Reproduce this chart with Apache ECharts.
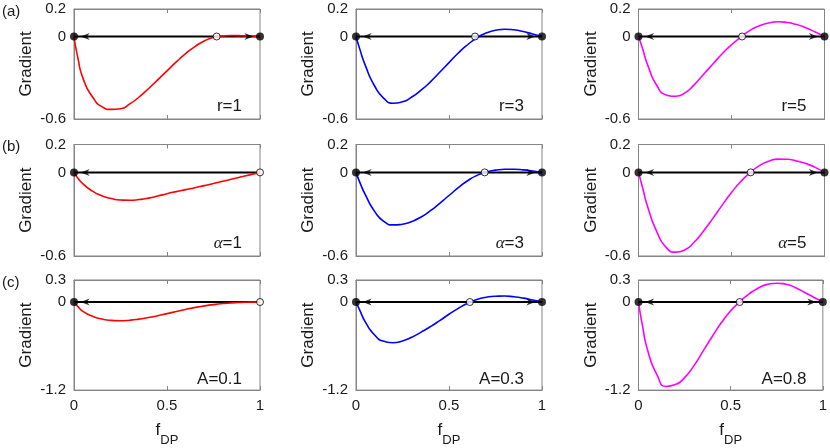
<!DOCTYPE html>
<html>
<head>
<meta charset="utf-8">
<script src="https://cdn.jsdelivr.net/npm/echarts@6/dist/echarts.min.js"></script>
<style>
  html, body { margin: 0; padding: 0; background: #fff; }
  #main { width: 830px; height: 448px; }
</style>
</head>
<body>
<div id="main"></div>
<script>
// f_DP samples shared by all panels
var fdp = [0, 0.02, 0.05, 0.1, 0.15, 0.2, 0.25, 0.3, 0.35, 0.4, 0.45, 0.5,
           0.55, 0.6, 0.65, 0.7, 0.75, 0.8, 0.85, 0.9, 0.95, 1];

// row (a): r = 1, 3, 5
var gradR1 = [0, -0.15, -0.31, -0.44, -0.51, -0.53, -0.525, -0.49, -0.44, -0.38, -0.315, -0.25,
              -0.185, -0.125, -0.073, -0.033, -0.007, 0.004, 0.007, 0.006, 0.003, 0];
var gradR3 = [0, -0.09, -0.21, -0.36, -0.45, -0.485, -0.475, -0.44, -0.39, -0.33, -0.26, -0.19,
              -0.12, -0.06, -0.01, 0.025, 0.045, 0.053, 0.049, 0.036, 0.018, 0];
var gradR5 = [0, -0.08, -0.21, -0.36, -0.425, -0.435, -0.41, -0.35, -0.275, -0.2, -0.125, -0.06,
              -0.005, 0.045, 0.078, 0.098, 0.107, 0.102, 0.087, 0.063, 0.033, 0];
// row (b): alpha = 1, 3, 5
var gradAlpha1 = [0, -0.04, -0.085, -0.135, -0.168, -0.188, -0.198, -0.2, -0.195, -0.185, -0.17, -0.153,
                  -0.138, -0.124, -0.11, -0.095, -0.08, -0.064, -0.048, -0.032, -0.016, 0];
var gradAlpha3 = [0, -0.07, -0.16, -0.28, -0.352, -0.377, -0.372, -0.352, -0.32, -0.275, -0.222, -0.166,
                  -0.11, -0.06, -0.022, 0.002, 0.016, 0.022, 0.022, 0.018, 0.01, 0];
var gradAlpha5 = [0, -0.1, -0.25, -0.43, -0.54, -0.572, -0.555, -0.5, -0.42, -0.33, -0.235, -0.145,
                  -0.065, -0.003, 0.048, 0.08, 0.095, 0.094, 0.082, 0.063, 0.036, 0];
// row (c): A = 0.1, 0.3, 0.8
var gradA01 = [0, -0.06, -0.13, -0.195, -0.232, -0.25, -0.255, -0.248, -0.233, -0.212, -0.186, -0.158,
               -0.13, -0.101, -0.075, -0.053, -0.035, -0.021, -0.011, -0.005, -0.001, 0];
var gradA03 = [0, -0.11, -0.27, -0.45, -0.535, -0.555, -0.53, -0.48, -0.41, -0.335, -0.253, -0.167,
               -0.087, -0.017, 0.035, 0.065, 0.079, 0.081, 0.071, 0.053, 0.028, 0];
var gradA08 = [0, -0.3, -0.66, -0.99, -1.15, -1.125, -1.03, -0.87, -0.67, -0.47, -0.28, -0.12,
               0.005, 0.11, 0.19, 0.24, 0.256, 0.243, 0.198, 0.133, 0.066, 0];

var curves = [gradR1, gradR3, gradR5, gradAlpha1, gradAlpha3, gradAlpha5, gradA01, gradA03, gradA08];

// equilibria on the f_DP axis
var stablePts   = [[0, 1], [0, 1], [0, 1], [0], [0, 1], [0, 1], [0], [0, 1], [0, 1]];
var unstablePts = [[0.767], [0.64], [0.557], [1], [0.692], [0.603], [1], [0.612], [0.549]];
// arrowheads on the zero line (pointing left / right)
var arrowsLeft  = [[0.06], [0.06], [0.06], [0.06], [0.06], [0.06], [0.06], [0.06], [0.06]];
var arrowsRight = [[0.94], [0.94], [0.94], [], [0.94], [0.94], [], [0.94], [0.94]];

var rowLetters = ['(a)', '(b)', '(c)'];
var panelNotes = ['r=1', 'r=3', 'r=5', '{i|α}=1', '{i|α}=3', '{i|α}=5', 'A=0.1', 'A=0.3', 'A=0.8'];
var rowYMin = [-0.6, -0.6, -1.2];
var rowYMax = [0.2, 0.2, 0.3];
var rowYTicks = [[-0.6, 0, 0.2], [-0.6, 0, 0.2], [-1.2, 0, 0.3]];
var colColors = ['#ff0000', '#0000ff', '#ff00ff'];

// layout
var colLeft = [74, 356, 638.5];
var plotW = 186;
var rowTop = [9, 144.5, 280];
var rowH = [110, 111.5, 112];

var FONT = 'Liberation Sans, Arial, Helvetica, sans-serif';
var TXT = '#1a1a1a';
var BOX = '#858585';

var dom = document.getElementById('main');
var myChart = echarts.init(dom, null, {renderer: 'canvas'});

var grids = [], xAxes = [], yAxes = [], series = [], titles = [];

function pts(xs) {
    return xs.map(function (x) { return [x, 0]; });
}

for (var r = 0; r < 3; r++) {
    for (var c = 0; c < 3; c++) {
        var k = r * 3 + c;
        grids.push({
            left: colLeft[c], top: rowTop[r], width: plotW, height: rowH[r],
            show: true, borderColor: BOX, borderWidth: 1, containLabel: false
        });
        // bottom x axis
        xAxes.push({
            gridIndex: k, type: 'value', min: 0, max: 1, interval: 0.5,
            axisLine: {show: true, onZero: false, lineStyle: {color: BOX}},
            axisTick: {show: true, inside: true, length: 4, lineStyle: {color: BOX}},
            axisLabel: {show: r === 2, fontSize: 15, color: TXT, margin: 8, fontFamily: FONT,
                        formatter: function (v) { return String(v); }},
            splitLine: {show: false},
            name: r === 2 ? '{f|f}{s|DP}' : '',
            nameLocation: 'middle', nameGap: 21,
            nameTextStyle: {
                rich: {
                    f: {fontSize: 17, color: TXT, fontFamily: FONT, verticalAlign: 'top', lineHeight: 17},
                    s: {fontSize: 13, color: TXT, fontFamily: FONT, padding: [20, 0, 0, 0], lineHeight: 13}
                }
            }
        });
        // mirrored top ticks
        xAxes.push({
            gridIndex: k, type: 'value', min: 0, max: 1, interval: 0.5, position: 'top',
            axisLine: {show: true, onZero: false, lineStyle: {color: BOX}},
            axisTick: {show: true, inside: true, length: 4, lineStyle: {color: BOX}},
            axisLabel: {show: false}, splitLine: {show: false}
        });
        yAxes.push({
            gridIndex: k, type: 'value', min: rowYMin[r], max: rowYMax[r],
            axisLine: {show: true, onZero: false, lineStyle: {color: BOX}},
            axisTick: {show: true, inside: true, length: 4, customValues: rowYTicks[r],
                       lineStyle: {color: BOX}},
            axisLabel: {fontSize: 15, color: TXT, margin: 8, fontFamily: FONT,
                        customValues: rowYTicks[r],
                        formatter: function (v) { return String(v); }},
            splitLine: {show: false},
            name: 'Gradient', nameLocation: 'middle', nameGap: 39,
            nameTextStyle: {fontSize: 17, color: TXT, fontFamily: FONT}
        });

        var xi = k * 2;
        // zero line
        series.push({
            type: 'line', xAxisIndex: xi, yAxisIndex: k, data: [[0, 0], [1, 0]],
            symbol: 'none', silent: true, z: 2,
            lineStyle: {color: '#000', width: 2}
        });
        // gradient curve
        series.push({
            type: 'line', xAxisIndex: xi, yAxisIndex: k, z: 3,
            data: fdp.map(function (x, i) { return [x, this[i]]; }, curves[k]),
            symbol: 'none', smooth: 0.6, silent: true,
            lineStyle: {color: colColors[c], width: 1.6}
        });
        // arrowheads
        series.push({
            type: 'scatter', xAxisIndex: xi, yAxisIndex: k, z: 4, silent: true,
            data: pts(arrowsLeft[k]),
            symbol: 'path://M0,4 L10,0 L7,4 L10,8 Z', symbolSize: [9, 7],
            itemStyle: {color: '#000'}
        });
        series.push({
            type: 'scatter', xAxisIndex: xi, yAxisIndex: k, z: 4, silent: true,
            data: pts(arrowsRight[k]),
            symbol: 'path://M10,4 L0,0 L3,4 L0,8 Z', symbolSize: [9, 7],
            itemStyle: {color: '#000'}
        });
        // stable equilibria
        series.push({
            type: 'scatter', xAxisIndex: xi, yAxisIndex: k, z: 5, silent: true,
            data: pts(stablePts[k]), symbol: 'circle', symbolSize: 8,
            itemStyle: {color: '#000'}
        });
        // unstable equilibria
        series.push({
            type: 'scatter', xAxisIndex: xi, yAxisIndex: k, z: 5, silent: true,
            data: pts(unstablePts[k]), symbol: 'circle', symbolSize: 7,
            itemStyle: {color: '#fff', borderColor: '#000', borderWidth: 1}
        });

        // panel annotation, bottom-right of each box
        titles.push({
            text: panelNotes[k], padding: 0,
            right: 830 - (colLeft[c] + plotW - 18),
            top: rowTop[r] + rowH[r] - 21,
            textStyle: {
                fontSize: 17, fontWeight: 'normal', color: TXT, fontFamily: FONT,
                rich: {i: {fontSize: 17, fontStyle: 'italic', fontFamily: 'Liberation Serif, Times New Roman, serif', color: TXT}}
            }
        });
    }
    titles.push({
        text: rowLetters[r], padding: 0, left: 2, top: rowTop[r] - 5,
        textStyle: {fontSize: 15, fontWeight: 'normal', color: TXT, fontFamily: FONT}
    });
}

var option = {
    animation: false,
    backgroundColor: '#fff',
    textStyle: {fontFamily: FONT},
    title: titles,
    grid: grids,
    xAxis: xAxes,
    yAxis: yAxes,
    series: series
};
myChart.setOption(option, true);

window.onresize = function () {
    myChart.resize();
};
</script>
</body>
</html>
